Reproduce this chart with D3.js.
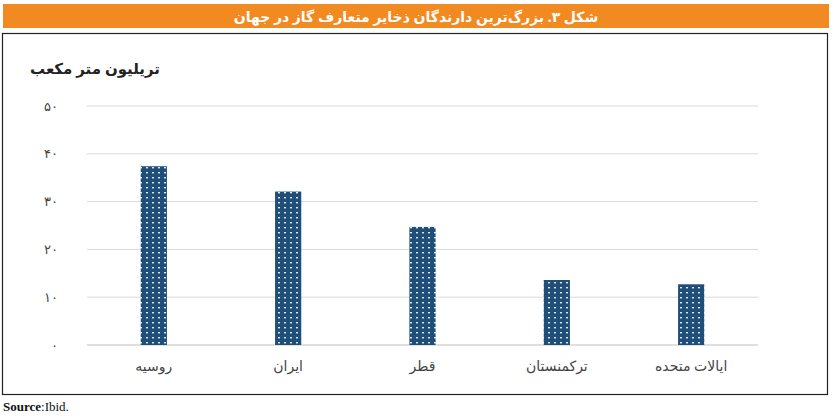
<!DOCTYPE html>
<html><head><meta charset="utf-8">
<script src="https://cdn.jsdelivr.net/npm/d3@7"></script>
<style>body{margin:0;background:#fff;}</style>
</head><body>
<svg id="c" width="834" height="418"></svg>
<script>
const categories = ["روسیه","ایران","قطر","ترکمنستان","ایالات متحده"];
const values = [37.4, 32.1, 24.7, 13.6, 12.7];
const tickValues = [0,10,20,30,40,50];
const tickLabels = ["۰","۱۰","۲۰","۳۰","۴۰","۵۰"];
const title = "شکل ۳. بزرگ‌ترین دارندگان ذخایر متعارف گاز در جهان";
const unit = "تریلیون متر مکعب";
const source = "Ibid.";

const svg = d3.select("#c");
const font = "'Noto Sans', 'DejaVu Sans', sans-serif";
svg.append("rect").attr("x",3).attr("y",4).attr("width",826).attr("height",24).attr("fill","#f28a22");
svg.append("text").attr("x",416).attr("y",22).attr("text-anchor","middle").attr("fill","#fff")
  .attr("font-family",font).attr("font-size",14).attr("font-weight","bold").text(title);
svg.append("rect").attr("x",2.5).attr("y",33.5).attr("width",825).attr("height",361).attr("fill","none").attr("stroke","#222").attr("stroke-width",1.2);
svg.append("text").attr("x",30).attr("y",74).attr("text-anchor","start")
  .attr("font-family",font).attr("font-size",15).attr("font-weight","bold").attr("fill","#222").text(unit);

const defs = svg.append("defs");
const pat = defs.append("pattern").attr("id","dots").attr("patternUnits","userSpaceOnUse").attr("width",6).attr("height",5);
pat.append("rect").attr("width",6).attr("height",5).attr("fill","#1f4e79");
pat.append("rect").attr("x",2).attr("y",2).attr("width",2).attr("height",1.4).attr("fill","#dfe9f3");

const x = d3.scaleBand().domain(categories).range([87,758]).paddingInner(0.805).paddingOuter(0.4);
const y = d3.scaleLinear().domain([0,50]).range([345,106]);

const g = svg.append("g");
g.selectAll(".grid").data(tickValues).join("line")
  .attr("x1",87).attr("x2",758).attr("y1",d=>y(d)).attr("y2",d=>y(d))
  .attr("stroke",d=>d===0?"#bfbfbf":"#d9d9d9").attr("stroke-width",1);
const yAxis = d3.axisLeft(y).tickValues(tickValues).tickFormat((d,i)=>tickLabels[i]).tickSize(0).tickPadding(14);
const ya = svg.append("g").attr("transform","translate(72,0)").call(yAxis);
ya.select(".domain").remove();
ya.selectAll("text").attr("font-family",font).attr("font-size",13).attr("fill","#444");

g.selectAll(".bar").data(values).join("rect")
  .attr("x",(d,i)=>x(categories[i])).attr("width",x.bandwidth())
  .attr("y",d=>y(d)).attr("height",d=>y(0)-y(d)).attr("fill","url(#dots)");

const xAxis = d3.axisBottom(x).tickSize(0).tickPadding(16);
const xa = svg.append("g").attr("transform","translate(0,345)").call(xAxis);
xa.select(".domain").remove();
xa.selectAll("text").attr("font-family",font).attr("font-size",14).attr("fill","#444");

const s = svg.append("text").attr("x",3).attr("y",411).attr("font-family","'Liberation Serif', serif").attr("font-size",13).attr("fill","#111");
s.append("tspan").attr("font-weight","bold").text("Source");
s.append("tspan").text(":"+source);
</script>
</body></html>
